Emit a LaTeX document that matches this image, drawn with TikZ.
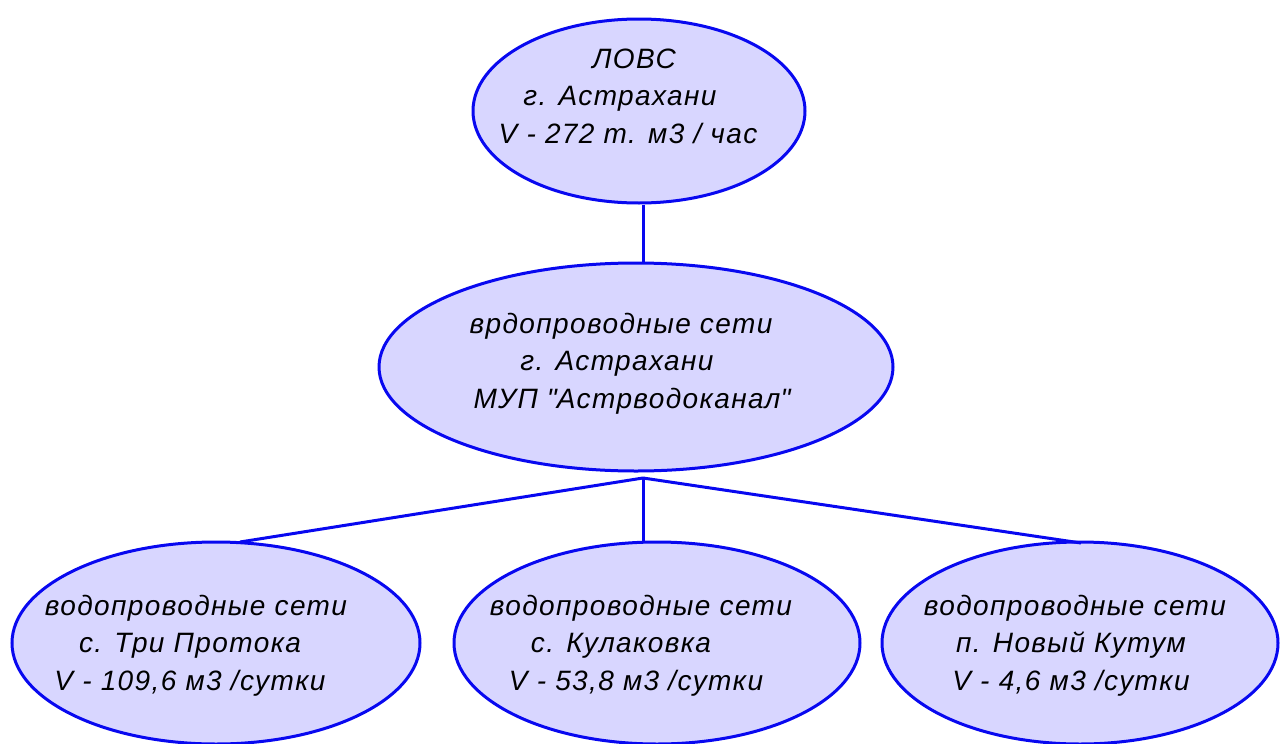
\documentclass[tikz,border=0pt]{standalone}
\usepackage{fontspec}
\setmainfont{Liberation Sans}[LetterSpace=5]
\usetikzlibrary{shapes.geometric}
\definecolor{lineblue}{RGB}{8,8,240}
\definecolor{fillblue}{RGB}{216,214,255}
\begin{document}
\begin{tikzpicture}[x=1pt,y=-1pt,
  oval/.style={ellipse,draw=lineblue,fill=fillblue,line width=3pt,inner sep=0pt},
  lbl/.style={align=center,font=\fontsize{28}{37.5}\selectfont\itshape,inner sep=0pt,text=black,anchor=base},
  link/.style={draw=lineblue,line width=3pt}]
\useasboundingbox (0,0) rectangle (1280,744);
\begin{scope}
\clip (0,0) rectangle (1280,744);
% ellipses
\node[oval,minimum width=332pt,minimum height=184pt] (top) at (639,111) {};
\node[oval,minimum width=514pt,minimum height=208pt] (mid) at (636,367) {};
\node[oval,minimum width=408pt,minimum height=202pt] (b1) at (216,643) {};
\node[oval,minimum width=406pt,minimum height=202pt] (b2) at (657,643) {};
\node[oval,minimum width=396pt,minimum height=202pt] (b3) at (1080,643) {};
% connectors
\coordinate (j) at (643,478);
\coordinate (t1) at (240,542);
\coordinate (t2) at (643,543);
\coordinate (t3) at (1081,543);
\draw[link] (top.south -| j) -- (j |- mid.north);
\draw[link] (j) -- (t1);
\draw[link] (j) -- (t2);
\draw[link] (j) -- (t3);
% texts (anchor base = baseline of the last line)
\node[lbl] (toptext) at (628,143) {\hspace*{12pt}ЛОВС\\\hspace*{-16pt}г. Астрахани\\V - 272 т. м3 / час};
\node[lbl] (midtext) at (621,408) {врдопроводные сети\\\hspace*{-8pt}г. Астрахани\\\hspace*{22pt}МУП \textquotedbl Астрводоканал\textquotedbl};
\node[lbl] (b1text) at (190,690) {\hspace*{12pt}водопроводные сети\\с. Три Протока\\V - 109,6 м3 /сутки};
\node[lbl] (b2text) at (636,690) {\hspace*{10pt}водопроводные сети\\\hspace*{-30pt}с. Кулаковка\\V - 53,8 м3 /сутки};
\node[lbl] (b3text) at (1071,690) {\hspace*{8pt}водопроводные сети\\п. Новый Кутум\\V - 4,6 м3 /сутки};
\end{scope}
\end{tikzpicture}
\end{document}
